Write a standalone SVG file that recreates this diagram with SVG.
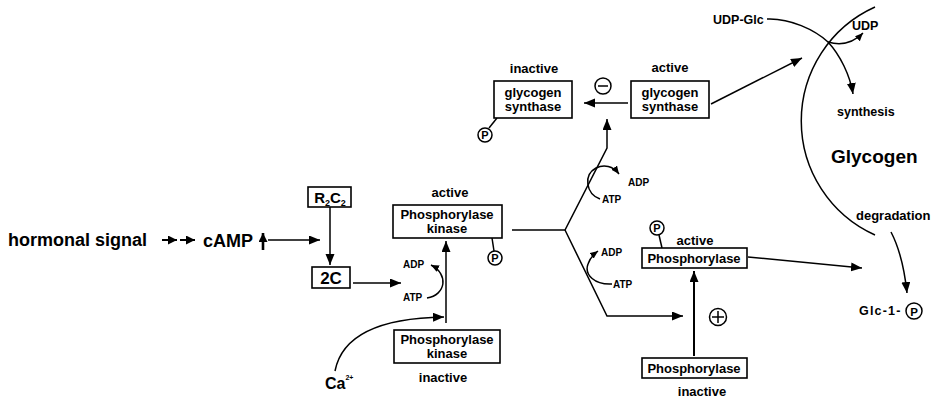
<svg xmlns="http://www.w3.org/2000/svg" width="934" height="399" viewBox="0 0 934 399">
<defs>
<style>
.t{font-family:"Liberation Sans",Arial,sans-serif;font-weight:bold;fill:#000}
.box{fill:#fff;stroke:#000;stroke-width:1.6}
.ln{fill:none;stroke:#000;stroke-width:1.5}
.th{fill:none;stroke:#000;stroke-width:2}
.c{fill:#fff;stroke:#000;stroke-width:1.5}
</style>
<marker id="ah" markerUnits="userSpaceOnUse" markerWidth="12" markerHeight="10" refX="11" refY="4.5" orient="auto"><path d="M0,0 L11,4.5 L0,9 z" fill="#000"/></marker>
<marker id="as" markerUnits="userSpaceOnUse" markerWidth="10" markerHeight="8" refX="8" refY="3.5" orient="auto"><path d="M0,0 L8,3.5 L0,7 z" fill="#000"/></marker>
<marker id="am" markerUnits="userSpaceOnUse" markerWidth="11" markerHeight="10" refX="9" refY="4.5" orient="auto"><path d="M0,0 L9,4.5 L0,9 z" fill="#000"/></marker>
</defs>
<rect width="934" height="399" fill="#fff"/>

<g id="connectors">
<path class="th" d="M162,240 L177,240" marker-end="url(#am)"/>
<path class="th" d="M180,240 L195,240" marker-end="url(#am)"/>
<path d="M263,250 L263,233" stroke="#000" stroke-width="2.6" fill="none" marker-end="url(#am)"/>
<path class="ln" d="M268,240 L320,240" marker-end="url(#ah)"/>
<path class="ln" d="M330,207 L330,265" marker-end="url(#ah)"/>
<path class="ln" d="M353,283 L401,283" marker-end="url(#ah)"/>
<path class="ln" d="M446,323 L446,241" marker-end="url(#ah)"/>
<path class="ln" d="M427,298 C446,295 449,274 431,265" marker-end="url(#as)"/>
<path class="ln" d="M335,371 C342,335 380,318 444,317" marker-end="url(#ah)"/>
<path class="ln" d="M512,230 L565,230 L607,148 L607,119" marker-end="url(#ah)"/>
<path class="ln" d="M565,230 L607,316 L683,316" marker-end="url(#ah)"/>
<path class="ln" d="M600,199 C586,194 583,175 596,168 C604,164 613,166 619,174" marker-end="url(#as)"/>
<path class="ln" d="M612,284 C595,285 584,275 588,264 C590,258 594,254 598,251" marker-end="url(#as)"/>
<path class="ln" d="M628,103 L584,103" marker-end="url(#ah)"/>
<path class="ln" d="M711,104 L802,58" marker-end="url(#ah)"/>
<path class="th" d="M694,356 L694,271" marker-end="url(#ah)"/>
<path class="ln" d="M748,257 L862,268" marker-end="url(#ah)"/>
<path class="ln" d="M767,19 C790,18 815,30 828,42 C840,55 850,75 853,94" marker-end="url(#ah)"/>
<path class="ln" d="M828,42 Q848,48 863,33" marker-end="url(#as)"/>
<path class="ln" d="M875,7 A125,125 0 0 0 875,235"/>
<path class="ln" d="M891,232 Q903,255 907,293" marker-end="url(#ah)"/>
<path class="ln" d="M489,128 L497,118"/>
<path class="ln" d="M492,238 L494,251"/>
<path class="ln" d="M659,235 L662,248"/>
</g>

<g id="hormonal-signal"><text class="t" x="8" y="246" font-size="18">hormonal signal</text></g>
<g id="camp"><text class="t" x="203" y="247" font-size="18">cAMP</text></g>

<g id="r2c2">
<rect class="box" x="308" y="187" width="43" height="20"/>
<text class="t" x="330" y="203" font-size="15" text-anchor="middle">R<tspan font-size="9" dy="3">2</tspan><tspan dy="-3">C</tspan><tspan font-size="9" dy="3">2</tspan></text>
</g>
<g id="2c">
<rect class="box" x="312" y="267" width="38" height="21"/>
<text class="t" x="331" y="284" font-size="17" text-anchor="middle">2C</text>
</g>

<g id="kinase-active">
<text class="t" x="450" y="197" font-size="13" text-anchor="middle">active</text>
<rect class="box" x="393" y="205" width="109" height="33"/>
<text class="t" x="447" y="219" font-size="13" text-anchor="middle">Phosphorylase</text>
<text class="t" x="447" y="233" font-size="13" text-anchor="middle">kinase</text>
<circle class="c" cx="495" cy="258" r="7"/>
<text class="t" x="495" y="262" font-size="11" text-anchor="middle">P</text>
</g>
<g id="kinase-atp">
<text class="t" x="403" y="268" font-size="10">ADP</text>
<text class="t" x="403" y="301" font-size="10">ATP</text>
</g>
<g id="kinase-inactive">
<rect class="box" x="394" y="330" width="106" height="33"/>
<text class="t" x="447" y="344" font-size="13" text-anchor="middle">Phosphorylase</text>
<text class="t" x="447" y="358" font-size="13" text-anchor="middle">kinase</text>
<text class="t" x="443" y="382" font-size="13" text-anchor="middle">inactive</text>
</g>
<g id="ca"><text class="t" x="325" y="389" font-size="16">Ca<tspan font-size="7" dy="-9">2+</tspan></text></g>

<g id="gs-inactive">
<text class="t" x="534" y="73" font-size="13" text-anchor="middle">inactive</text>
<rect class="box" x="494" y="81" width="78" height="37"/>
<text class="t" x="533" y="97" font-size="13" text-anchor="middle">glycogen</text>
<text class="t" x="533" y="111" font-size="13" text-anchor="middle">synthase</text>
<circle class="c" cx="485" cy="135" r="7"/>
<text class="t" x="485" y="139" font-size="11" text-anchor="middle">P</text>
</g>
<g id="minus">
<circle class="c" cx="603" cy="86" r="8"/>
<path class="ln" d="M598,86 L608,86"/>
</g>
<g id="gs-active">
<text class="t" x="670" y="72" font-size="13" text-anchor="middle">active</text>
<rect class="box" x="631" y="81" width="78" height="37"/>
<text class="t" x="670" y="97" font-size="13" text-anchor="middle">glycogen</text>
<text class="t" x="670" y="111" font-size="13" text-anchor="middle">synthase</text>
</g>
<g id="upper-atp">
<text class="t" x="628" y="186" font-size="10">ADP</text>
<text class="t" x="602" y="203" font-size="10">ATP</text>
</g>
<g id="lower-atp">
<text class="t" x="601" y="256" font-size="10">ADP</text>
<text class="t" x="613" y="288" font-size="10">ATP</text>
</g>
<g id="phos-active">
<circle class="c" cx="657" cy="228" r="7"/>
<text class="t" x="657" y="232" font-size="11" text-anchor="middle">P</text>
<text class="t" x="695" y="245" font-size="13" text-anchor="middle">active</text>
<rect class="box" x="642" y="248" width="105" height="20"/>
<text class="t" x="694" y="263" font-size="13" text-anchor="middle">Phosphorylase</text>
</g>
<g id="plus">
<circle class="c" cx="718" cy="317" r="8.5"/>
<path class="ln" d="M712,317 L724,317 M718,311 L718,323"/>
</g>
<g id="phos-inactive">
<rect class="box" x="642" y="358" width="105" height="20"/>
<text class="t" x="694" y="373" font-size="13" text-anchor="middle">Phosphorylase</text>
<text class="t" x="702" y="396" font-size="13" text-anchor="middle">inactive</text>
</g>
<g id="udp-glc"><text class="t" x="713" y="24" font-size="12.5">UDP-Glc</text></g>
<g id="udp"><text class="t" x="852" y="30" font-size="12.5">UDP</text></g>
<g id="synthesis"><text class="t" x="837" y="116" font-size="12.5">synthesis</text></g>
<g id="glycogen"><text class="t" x="831" y="163" font-size="19">Glycogen</text></g>
<g id="degradation"><text class="t" x="856" y="220" font-size="13">degradation</text></g>
<g id="glc1p">
<text class="t" x="859" y="315" font-size="12.5" letter-spacing="1.2">Glc-1-</text>
<circle class="c" cx="914" cy="311" r="8"/>
<text class="t" x="914" y="315.5" font-size="11.5" text-anchor="middle">P</text>
</g>
</svg>
